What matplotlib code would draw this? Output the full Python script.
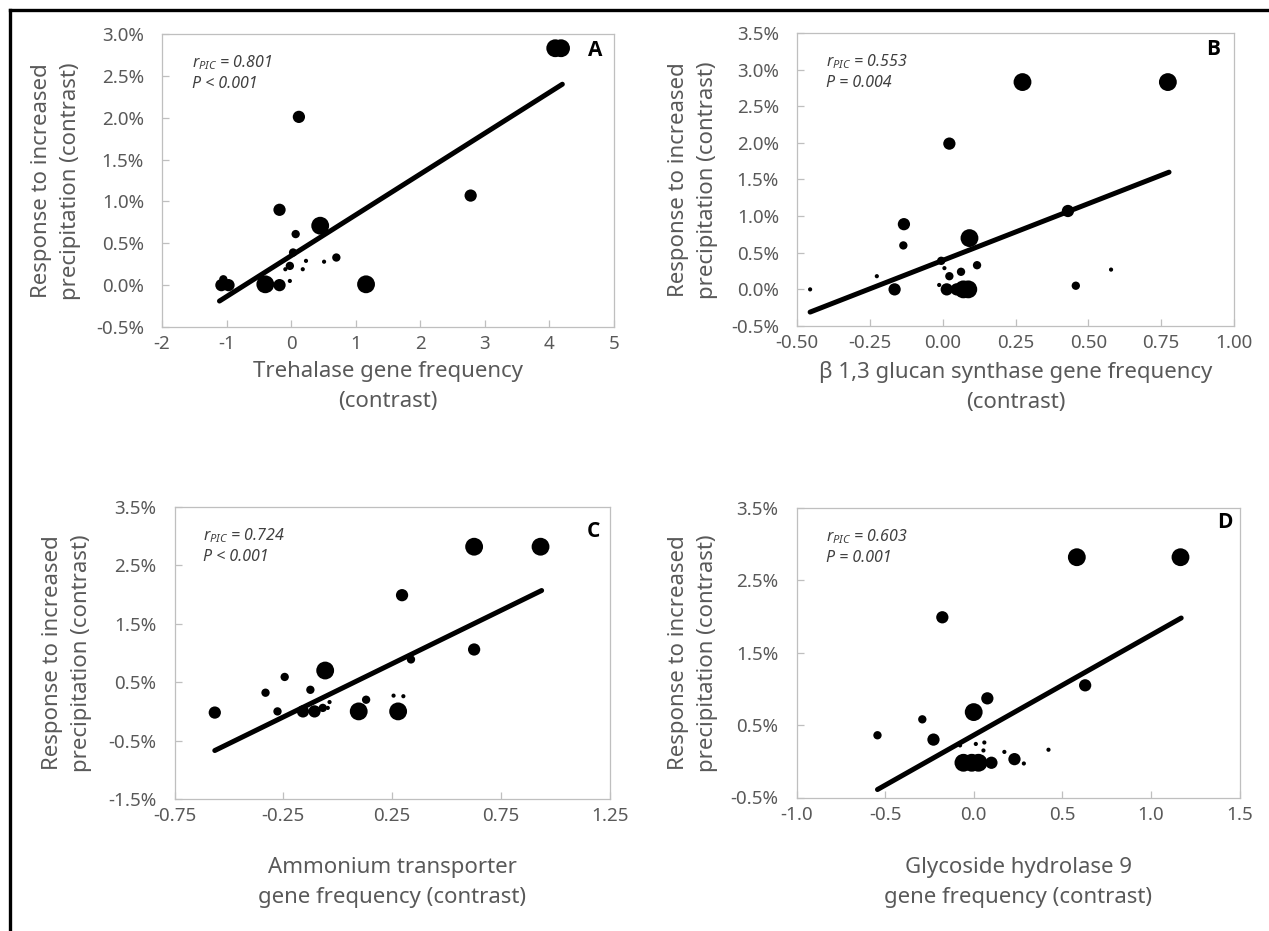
import numpy as np
import matplotlib
matplotlib.use('Agg')
import matplotlib.pyplot as plt
from matplotlib.lines import Line2D
from matplotlib.ticker import FuncFormatter, FixedLocator

plt.rcParams['font.family'] = ['Noto Sans', 'DejaVu Sans']
plt.rcParams['axes.unicode_minus'] = False
plt.rcParams['mathtext.fontset'] = 'custom'
plt.rcParams['mathtext.it'] = 'Noto Sans:italic'
plt.rcParams['mathtext.rm'] = 'Noto Sans:italic'

# ---- data (x = gene frequency contrast, y = response in %, w = point weight class 1..4)
a_x = [4.09, 4.18, 0.12, 2.78, -0.18, 0.45, 0.07, 0.70, -0.02, 0.23, 0.51, 0.18, -0.09,
       -0.02, 0.03, -0.40, -0.18, 1.16, -1.08, -0.97, -1.05]
a_y = [2.83, 2.83, 2.01, 1.07, 0.90, 0.71, 0.61, 0.33, 0.23, 0.29, 0.28, 0.19, 0.19,
       0.05, 0.39, 0.01, 0.00, 0.01, 0.00, 0.00, 0.07]
a_w = [4, 4, 3, 3, 3, 4, 2, 2, 2, 1, 1, 1, 1, 1, 2, 4, 3, 4, 3, 3, 2]
a_fit_x = [-1.11, 4.20]
a_fit_y = [-0.19, 2.40]

b_x = [0.274, 0.773, 0.023, 0.43, -0.133, -0.135, 0.092, 0.118, -0.005, 0.006, 0.023,
       0.063, -0.012, -0.226, 0.578, -0.165, 0.457, 0.014, 0.048, 0.071, 0.088, -0.455]
b_y = [2.83, 2.83, 1.99, 1.07, 0.89, 0.60, 0.70, 0.33, 0.39, 0.29, 0.18,
       0.24, 0.06, 0.18, 0.27, 0.00, 0.05, 0.00, 0.00, 0.00, 0.00, 0.00]
b_w = [4, 4, 3, 3, 3, 2, 4, 2, 2, 1, 2, 2, 1, 1, 1, 3, 2, 3, 3, 4, 4, 1]
b_fit_x = [-0.455, 0.777]
b_fit_y = [-0.31, 1.60]

c_x = [0.626, 0.931, 0.295, 0.626, 0.336, -0.058, -0.244, -0.332, -0.126, -0.565,
       -0.277, -0.16, -0.107, -0.069, -0.038, -0.046, 0.096, 0.13, 0.277, 0.256, 0.301]
c_y = [2.82, 2.82, 1.99, 1.06, 0.89, 0.70, 0.59, 0.32, 0.37, -0.02,
       0.00, 0.00, 0.00, 0.06, 0.16, 0.06, 0.00, 0.20, 0.00, 0.27, 0.26]
c_w = [4, 4, 3, 3, 2, 4, 2, 2, 2, 3, 2, 3, 3, 2, 1, 1, 4, 2, 4, 1, 1]
c_fit_x = [-0.565, 0.936]
c_fit_y = [-0.67, 2.07]

d_x = [0.582, 1.167, -0.177, 0.629, 0.077, 0.0, -0.29, -0.543, -0.227, -0.077, 0.012,
       0.06, 0.055, 0.173, 0.422, 0.23, 0.283, -0.058, -0.011, 0.027, 0.10]
d_y = [2.82, 2.82, 1.99, 1.05, 0.87, 0.68, 0.58, 0.36, 0.30, 0.22, 0.24,
       0.26, 0.15, 0.13, 0.16, 0.03, -0.03, -0.02, -0.02, -0.02, -0.02]
d_w = [4, 4, 3, 3, 3, 4, 2, 2, 3, 1, 1, 1, 1, 1, 1, 3, 1, 4, 4, 4, 3]
d_fit_x = [-0.543, 1.171]
d_fit_y = [-0.39, 1.98]

ylabel = 'Response to increased\nprecipitation (contrast)'
panels = [
    dict(letter='A', x=a_x, y=a_y, w=a_w, fx=a_fit_x, fy=a_fit_y,
         r='0.801', p='P < 0.001', xlim=(-2, 5), xticks=[-2, -1, 0, 1, 2, 3, 4, 5], xfmt='{:.0f}',
         ylim=(-0.5, 3.0), yticks=np.arange(-0.5, 3.01, 0.5),
         xlabel='Trehalase gene frequency\n(contrast)'),
    dict(letter='B', x=b_x, y=b_y, w=b_w, fx=b_fit_x, fy=b_fit_y,
         r='0.553', p='P = 0.004', xlim=(-0.5, 1.0), xticks=[-0.5, -0.25, 0, 0.25, 0.5, 0.75, 1.0],
         xfmt='{:.2f}', ylim=(-0.5, 3.5), yticks=np.arange(-0.5, 3.51, 0.5),
         xlabel='\u03b2 1,3 glucan synthase gene frequency\n(contrast)'),
    dict(letter='C', x=c_x, y=c_y, w=c_w, fx=c_fit_x, fy=c_fit_y,
         r='0.724', p='P < 0.001', xlim=(-0.75, 1.25), xticks=[-0.75, -0.25, 0.25, 0.75, 1.25],
         xfmt='{:.2f}', ylim=(-1.5, 3.5), yticks=np.arange(-1.5, 3.51, 1.0),
         xlabel='Ammonium transporter\ngene frequency (contrast)'),
    dict(letter='D', x=d_x, y=d_y, w=d_w, fx=d_fit_x, fy=d_fit_y,
         r='0.603', p='P = 0.001', xlim=(-1.0, 1.5), xticks=[-1.0, -0.5, 0, 0.5, 1.0, 1.5],
         xfmt='{:.1f}', ylim=(-0.5, 3.5), yticks=np.arange(-0.5, 3.51, 1.0),
         xlabel='Glycoside hydrolase 9\ngene frequency (contrast)'),
]

W, H = 1269, 931
# axes boxes in pixels: left, top, right, bottom
boxes = [(162, 34, 614, 327), (797, 33, 1234, 326), (174.5, 507, 610, 799), (796.5, 508, 1239.5, 797.5)]
ylab_pos = [(56, 181), (693, 180), (67, 653), (693, 653)]
xlab_pos = [(388, 361), (1016, 361), (392, 857), (1018, 857)]
letter_pos = [(0.958, 0.945), (0.952, 0.943), (0.963, 0.916), (0.967, 0.949)]
size_map = {1: 9, 2: 36, 3: 78, 4: 165}

gray = '#bfbfbf'
txt = '#595959'

fig = plt.figure(figsize=(W / 100, H / 100), dpi=100)

for i, pn in enumerate(panels):
    l, t, r, b = boxes[i]
    ax = fig.add_axes([l / W, 1 - b / H, (r - l) / W, (b - t) / H])
    ax.scatter(pn['x'], pn['y'], s=[size_map[k] for k in pn['w']], color='black',
               edgecolors='none', zorder=3)
    ax.plot(pn['fx'], pn['fy'], color='black', lw=3.6, solid_capstyle='round', zorder=4)
    ax.set_xlim(*pn['xlim'])
    ax.set_ylim(*pn['ylim'])
    ax.xaxis.set_major_locator(FixedLocator(pn['xticks']))
    ax.yaxis.set_major_locator(FixedLocator(pn['yticks']))
    fmt = pn['xfmt']
    ax.xaxis.set_major_formatter(FuncFormatter(lambda v, _, f=fmt: f.format(v)))
    ax.yaxis.set_major_formatter(FuncFormatter(lambda v, _: '{:.1f}%'.format(v)))
    for s in ax.spines.values():
        s.set_color(gray)
        s.set_linewidth(0.9)
    ax.tick_params(axis='both', direction='in', length=5, width=0.9, color=gray,
                   labelcolor=txt, labelsize=13.5)
    ax.tick_params(axis='y', pad=13)
    ax.tick_params(axis='x', pad=6)
    ax.text(0.066, 0.935, r'$r_{PIC}$ = ' + pn['r'] + '\n' + pn['p'], transform=ax.transAxes,
            ha='left', va='top', fontsize=11.5, style='italic', color='#404040', linespacing=1.35)
    lx, ly = letter_pos[i]
    ax.text(lx, ly, pn['letter'], transform=ax.transAxes, ha='center', va='center',
            fontsize=15, fontweight='bold', family=['Open Sans', 'DejaVu Sans'], color='black')
    yx, yy = ylab_pos[i]
    fig.text(yx / W, 1 - yy / H, ylabel, rotation=90, ha='center', va='center',
             fontsize=16, color=txt, linespacing=1.45)
    xx, xy = xlab_pos[i]
    fig.text(xx / W, 1 - xy / H, pn['xlabel'], ha='center', va='top',
             fontsize=16, color=txt, linespacing=1.55)

# outer frame (top and left edges only)
fig.add_artist(Line2D([10 / W, 1], [1 - 10 / H, 1 - 10 / H], color='black', lw=2.4))
fig.add_artist(Line2D([10 / W, 10 / W], [0, 1 - 10 / H], color='black', lw=2.4))

fig.savefig('out.png', dpi=100)
